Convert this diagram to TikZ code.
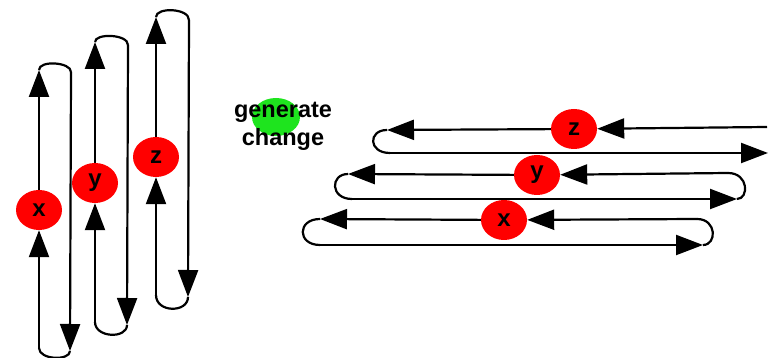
\documentclass[tikz,border=0pt]{standalone}
\usepackage{fontspec}
\setmainfont{Liberation Sans}
\usetikzlibrary{arrows.meta,shapes.geometric}

\begin{document}
\begin{tikzpicture}[x=1pt,y=1pt,
    ball/.style={ellipse,fill=myred,minimum width=46pt,minimum height=40pt,inner sep=0pt,
        font=\fontsize{24}{24}\selectfont\bfseries},
    flow/.style={line width=2.2pt,-{Triangle[length=27pt,width=20pt]}},
    loopline/.style={line width=2.2pt}]

\definecolor{myred}{RGB}{255,0,0}
\definecolor{mygreen}{RGB}{30,228,30}

    \useasboundingbox (0,0) rectangle (769,358);

    %Links: x
    \node[ball] (xa) at (39,148) {x};
    \coordinate (xa1) at (39,288);
    \coordinate (xa2) at (71,286);
    \coordinate (xa3) at (70,7);
    \coordinate (xa4) at (39,10);
    \draw[flow] (xa) -- (xa1);
    \draw[loopline] (xa1) .. controls +(0,10) and +(0,10) .. (xa2);
    \draw[flow] (xa2) -- (xa3);
    \draw[loopline] (xa3) .. controls +(0,-10) and +(0,-12) .. (xa4);
    \draw[flow] (xa4) -- (xa);

    %Links: y
    \node[ball] (ya) at (95,175) {y};
    \coordinate (ya1) at (95,316);
    \coordinate (ya2) at (128,313);
    \coordinate (ya3) at (127,33);
    \coordinate (ya4) at (95,36);
    \draw[flow] (ya) -- (ya1);
    \draw[loopline] (ya1) .. controls +(0,9) and +(0,11) .. (ya2);
    \draw[flow] (ya2) -- (ya3);
    \draw[loopline] (ya3) .. controls +(0,-14) and +(0,-16) .. (ya4);
    \draw[flow] (ya4) -- (ya);

    %Links: z
    \node[ball] (za) at (156,201) {z};
    \coordinate (za1) at (156,341);
    \coordinate (za2) at (189,338);
    \coordinate (za3) at (188,61);
    \coordinate (za4) at (156,63);
    \draw[flow] (za) -- (za1);
    \draw[loopline] (za1) .. controls +(0,10) and +(0,12) .. (za2);
    \draw[flow] (za2) -- (za3);
    \draw[loopline] (za3) .. controls +(0,-16) and +(0,-18) .. (za4);
    \draw[flow] (za4) -- (za);

    %Mitte
    \node[ellipse,fill=mygreen,minimum width=48pt,minimum height=38pt] (gen) at (276,241) {};
    \node[align=center,font=\fontsize{23.5}{28}\selectfont\bfseries] (gentxt) at (283,232) {generate\\change};

    %Rechts: z
    \node[ball] (zb) at (574,229) {z};
    \coordinate (zb1) at (767,231);
    \coordinate (zb2) at (387,228);
    \coordinate (zb3) at (390,205);
    \coordinate (zb4) at (768,205);
    \draw[flow] (zb1) -- (zb);
    \draw[flow] (zb) -- (zb2);
    \draw[loopline] (zb2) .. controls +(-19,0) and +(-22,0) .. (zb3);
    \draw[flow] (zb3) -- (zb4);

    %Rechts: y
    \node[ball] (yb) at (537,183) {y};
    \coordinate (yb1) at (728,185);
    \coordinate (yb2) at (348,184);
    \coordinate (yb3) at (352,159);
    \coordinate (yb4) at (737,159);
    \draw[flow] (yb1) -- (yb);
    \draw[flow] (yb) -- (yb2);
    \draw[loopline] (yb2) .. controls +(-18,0) and +(-22,0) .. (yb3);
    \draw[flow] (yb3) -- (yb4);
    \draw[loopline] (yb4) .. controls +(12,0) and +(21,0) .. (yb1);

    %Rechts: x
    \node[ball] (xb) at (504,138) {x};
    \coordinate (xb1) at (697,139);
    \coordinate (xb2) at (320,139);
    \coordinate (xb3) at (320,113);
    \coordinate (xb4) at (703,113);
    \draw[flow] (xb1) -- (xb);
    \draw[flow] (xb) -- (xb2);
    \draw[loopline] (xb2) .. controls +(-23,0) and +(-23,0) .. (xb3);
    \draw[flow] (xb3) -- (xb4);
    \draw[loopline] (xb4) .. controls +(14,0) and +(20,0) .. (xb1);

\end{tikzpicture}
\end{document}
